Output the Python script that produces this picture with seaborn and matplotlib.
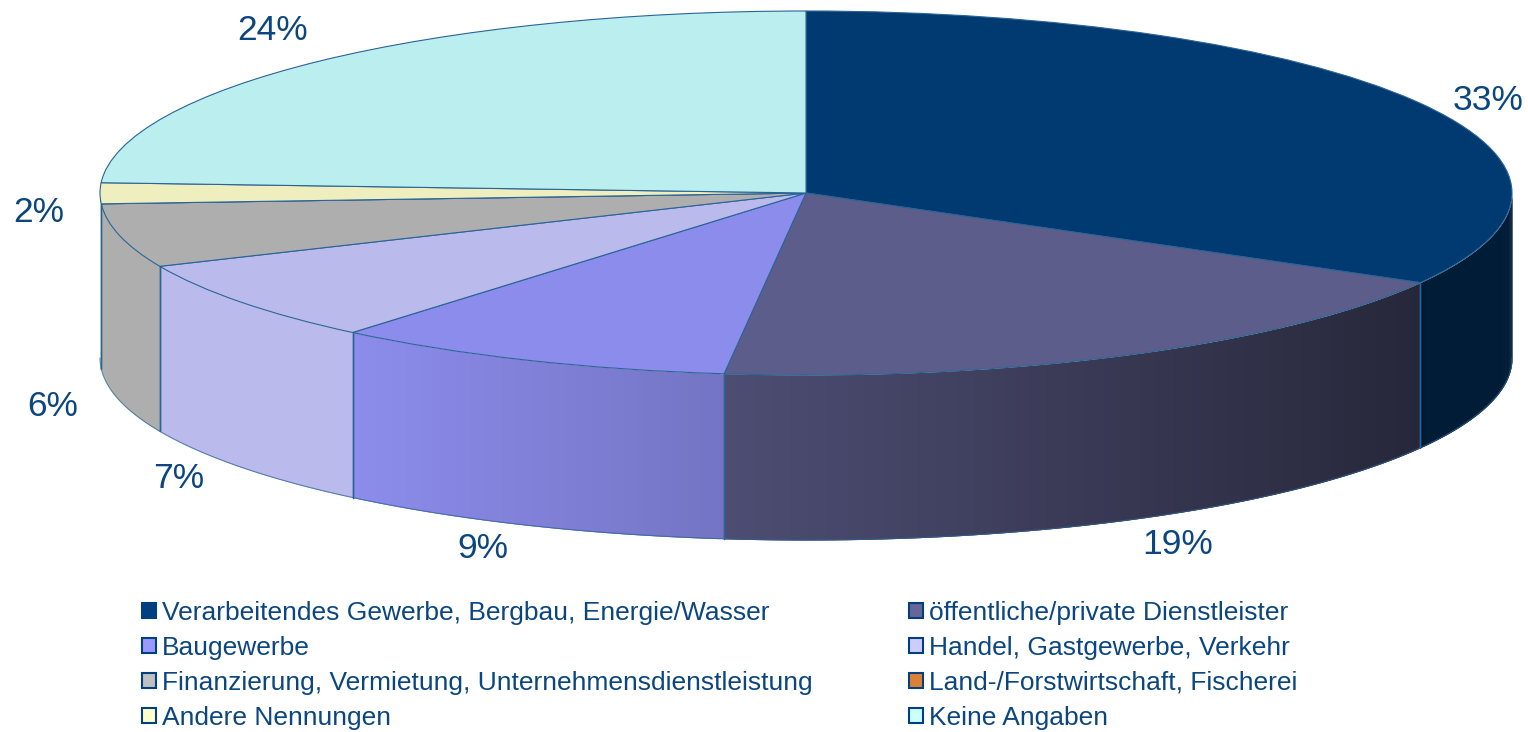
import numpy as np
import matplotlib
matplotlib.use("Agg")
import matplotlib.pyplot as plt
from matplotlib.patches import Patch
import seaborn as sns

# --- Data ---
categories = ["Verarbeitendes Gewerbe, Bergbau, Energie/Wasser",
              "öffentliche/private Dienstleister",
              "Baugewerbe",
              "Handel, Gastgewerbe, Verkehr",
              "Finanzierung, Vermietung, Unternehmensdienstleistung",
              "Land-/Forstwirtschaft, Fischerei",
              "Andere Nennungen",
              "Keine Angaben"]
values = [33.2, 18.65, 9.25, 7.3, 5.65, 0.0, 1.85, 24.1]
percent_labels = ["33%", "19%", "9%", "7%", "6%", None, "2%", "24%"]

# --- Styles ---
top_colors = ["#003A70", "#5D5D8B", "#8C8CEC", "#BABAEC", "#AEAEAE", "#DD8033", "#EEEEBE", "#BBEEEE"]
legend_colors = ["#004080", "#666699", "#9999FF", "#CCCCFF", "#C0C0C0", "#DD8033", "#FFFFCC", "#CCFFFF"]
line_color = "#2A6496"
text_color = "#0B4680"
label_pos = [(1488, 101), (1178, 544), (483, 549), (179, 479), (53, 407), None, (39, 213), (273, 31)]

W, H = 1528, 732
cx, cy, rx, ry = 806, 193, 706, 182
depth = 165 / ry

sns.set_theme(style="white")
plt.rcParams["font.family"] = ["Liberation Sans", "DejaVu Sans"]

fig = plt.figure(figsize=(W / 100, H / 100), dpi=100)
ax = fig.add_axes([0, 0, 1, 1])


def shade(x):
    # side wall gets darker to the right
    px = cx + rx * x
    return np.interp(px, [352, 724, 1420, 1424, 1512], [1.0, 0.83, 0.42, 0.48, 0.48])


# --- Side wall ---
cum = np.cumsum([0] + values) / 100 * 2 * np.pi
for i, color in enumerate(top_colors):
    a0 = max(cum[i], np.pi / 2)
    a1 = min(cum[i + 1], 3 * np.pi / 2)
    if a1 <= a0:
        continue
    rgb = np.array(matplotlib.colors.to_rgb(color))
    angles = np.linspace(a0, a1, max(int((a1 - a0) * 160), 2) + 1)
    for k in range(len(angles) - 1):
        # each strip runs under the next one so no seams show
        t = angles[k:k + 3]
        xs = np.sin(t)
        ys = np.cos(t)
        c = rgb * shade(xs[:2].mean())
        ax.fill_between(xs, ys - depth, ys, color=c, lw=0)
    # slice edges on the wall
    for t in (a0, a1):
        if np.pi / 2 < t < 3 * np.pi / 2:
            ax.plot([np.sin(t)] * 2, [np.cos(t), np.cos(t) - depth], color=line_color, lw=1)
    bottom = np.linspace(a0, a1, 100)
    ax.plot(np.sin(bottom), np.cos(bottom) - depth, color=line_color, lw=0.8, alpha=0.7)

# --- Top face ---
ax.pie(values, colors=top_colors, startangle=90, counterclock=False, radius=1,
       wedgeprops={"edgecolor": line_color, "linewidth": 0.8})
ax.set_aspect("auto")
ax.set_xlim(-cx / rx, (W - cx) / rx)
ax.set_ylim((cy - H) / ry, cy / ry)
ax.axis("off")

# --- Percent labels ---
for lab, pos in zip(percent_labels, label_pos):
    if lab is not None:
        fig.text(pos[0] / W, 1 - pos[1] / H, lab, color=text_color, fontsize=25.5,
                 ha="center", va="center")

# --- Legend ---
handles = [Patch(facecolor=c, edgecolor="#004080", linewidth=1.5, label=n)
           for c, n in zip(legend_colors, categories)]
order = [0, 2, 4, 6, 1, 3, 5, 7]
ax.legend([handles[i] for i in order], [categories[i] for i in order], ncol=2,
          loc="lower left", bbox_to_anchor=(142 / W, 1 - 730 / H), frameon=False,
          fontsize=19, labelcolor=text_color, borderpad=0, borderaxespad=0,
          handlelength=0.53, handleheight=0.53, handletextpad=0.23,
          columnspacing=3.64, labelspacing=0.42)

plt.savefig("out.png", dpi=100)
